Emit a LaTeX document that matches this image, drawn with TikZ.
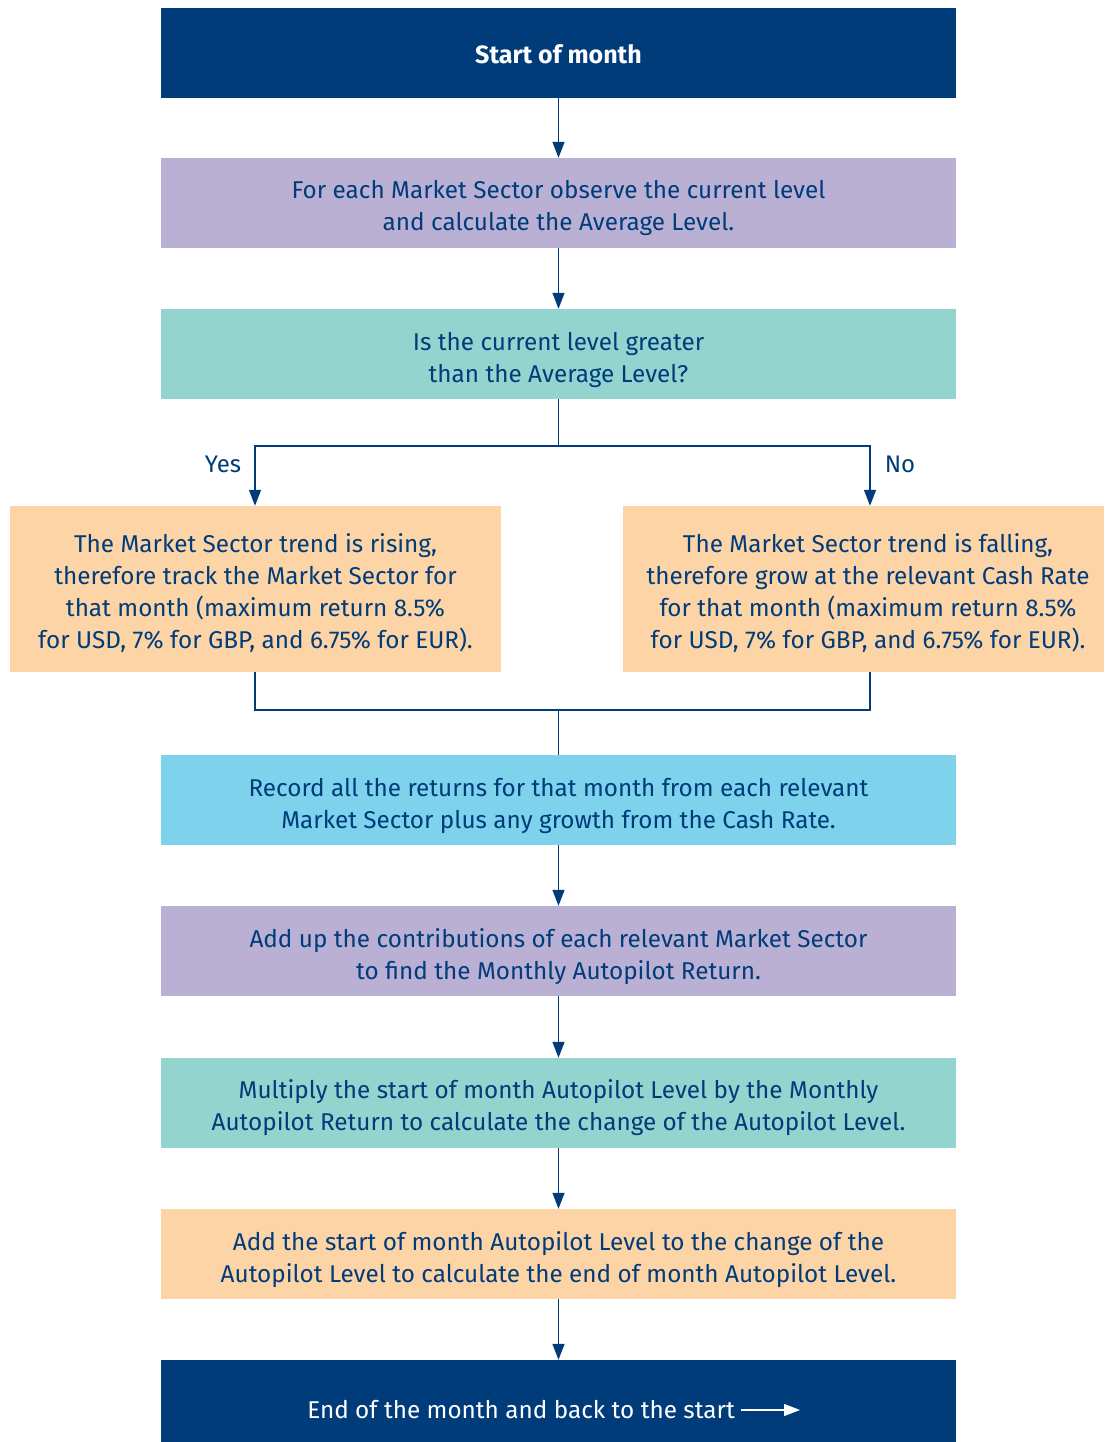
\documentclass[tikz,border=0pt]{standalone}
\usepackage{fontspec}
\setmainfont{Fira Sans}
\usetikzlibrary{arrows.meta}
\definecolor{navy}{HTML}{003B7A}
\definecolor{lav}{HTML}{BAB0D4}
\definecolor{teal2}{HTML}{94D4CE}
\definecolor{peach}{HTML}{FDD4A6}
\definecolor{sky}{HTML}{7ED2EC}
\tikzset{
  box/.style={minimum width=795pt, minimum height=90pt, inner sep=0pt, align=center,
    text=navy, font=\fontsize{24}{32}\selectfont},
  sidebox/.style={minimum height=166pt, inner sep=0pt, align=center,
    text=navy, font=\fontsize{24}{32}\selectfont},
  txt/.style={inner sep=0pt, align=center, text=navy, font=\fontsize{24.3}{32}\selectfont},
  conn/.style={draw=navy, line width=1.4pt},
  arr/.style={conn, -{Triangle[length=16pt,width=12pt]}},
  lbl/.style={text=navy, font=\fontsize{24}{28}\selectfont, inner sep=0pt}
}
\begin{document}
\begin{tikzpicture}[x=1pt,y=-1pt]
\useasboundingbox (0,0) rectangle (1104,1442);
\node[box, fill=navy] (start) at (558.5,53) {};
\node[txt, text=white, font=\fontsize{25}{32}\selectfont\bfseries] (starttxt) at (558.5,54) {Start of month};
\node[box, fill=lav] (observe) at (558.5,203) {};
\node[txt] (observetxt) at (558.5,208) {For each Market Sector observe the current level\\and calculate the Average Level.};
\node[box, fill=teal2] (question) at (558.5,354) {};
\node[txt] (questiontxt) at (558.5,360) {Is the current level greater\\than the Average Level?};
\node[sidebox, fill=peach, minimum width=491pt] (rising) at (255.5,589) {};
\node[txt] (risingtxt) at (255.5,593) {The Market Sector trend is rising,\\therefore track the Market Sector for\\that month (maximum return 8.5\%\\for USD, 7\% for GBP, and 6.75\% for EUR).};
\node[sidebox, fill=peach, minimum width=481pt] (falling) at (863.5,589) {};
\node[txt] (fallingtxt) at (868,593) {The Market Sector trend is falling,\\therefore grow at the relevant Cash Rate\\for that month (maximum return 8.5\%\\for USD, 7\% for GBP, and 6.75\% for EUR).};
\node[box, fill=sky] (record) at (558.5,800) {};
\node[txt] (recordtxt) at (558.5,806) {Record all the returns for that month from each relevant\\Market Sector plus any growth from the Cash Rate.};
\node[box, fill=lav] (addup) at (558.5,951) {};
\node[txt] (adduptxt) at (558.5,957) {Add up the contributions of each relevant Market Sector\\to find the Monthly Autopilot Return.};
\node[box, fill=teal2] (multiply) at (558.5,1103) {};
\node[txt] (multiplytxt) at (558.5,1108) {Multiply the start of month Autopilot Level by the Monthly\\Autopilot Return to calculate the change of the Autopilot Level.};
\node[box, fill=peach] (addstart) at (558.5,1254) {};
\node[txt] (addstarttxt) at (558.5,1260) {Add the start of month Autopilot Level to the change of the\\Autopilot Level to calculate the end of month Autopilot Level.};
\node[box, fill=navy, minimum height=82pt] (endbox) at (558.5,1401) {};
\node[txt, text=white, anchor=east] (endtxt) at (735,1410) {End of the month and back to the start};
\draw[draw=white, line width=1.4pt, -{Triangle[length=16pt,width=12pt]}] ([xshift=6pt]endtxt.east) -- ++(59,0);

\coordinate (split) at (558.5,446);
\coordinate (yesc) at (255,446);
\coordinate (noc) at (870,446);
\coordinate (ljoin) at (255,710);
\coordinate (rjoin) at (870,710);
\coordinate (mjoin) at (558.5,710);

\draw[arr] (start) -- (observe);
\draw[arr] (observe) -- (question);
\draw[conn] (question.south) -- (split);
\draw[arr] (split) -- (yesc) -- (yesc |- rising.north);
\draw[arr] (split) -- (noc) -- (noc |- falling.north);
\draw[conn] (ljoin |- rising.south) -- (ljoin) -- (rjoin) -- (rjoin |- falling.south);
\draw[conn] (mjoin) -- (record.north);
\draw[arr] (record) -- (addup);
\draw[arr] (addup) -- (multiply);
\draw[arr] (multiply) -- (addstart);
\draw[arr] (addstart) -- (endbox);

\node[lbl] (yes) at (223,464) {Yes};
\node[lbl] (no) at (900,464) {No};
\end{tikzpicture}
\end{document}
